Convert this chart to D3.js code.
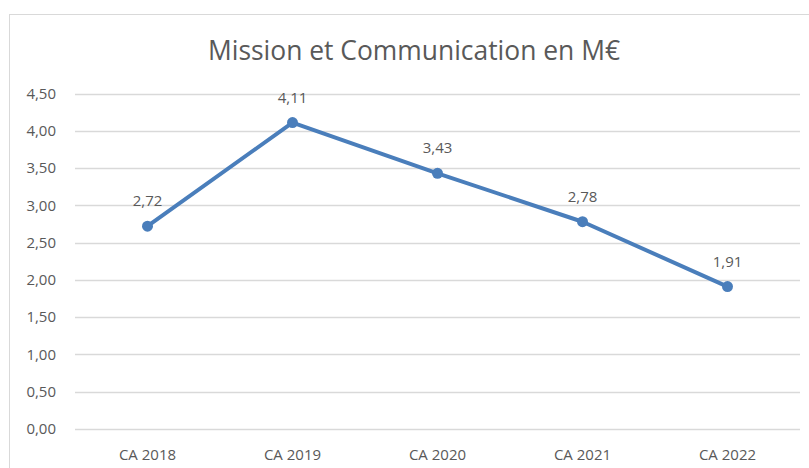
<!DOCTYPE html>
<html>
<head>
<meta charset="utf-8">
<script src="https://cdn.jsdelivr.net/npm/d3@7"></script>
<style>
  body { margin: 0; background: #fff; }
  svg text { font-family: "Open Sans", sans-serif; fill: #595959; }
</style>
</head>
<body>
<div id="chart"></div>
<script>

const categories = ['CA 2018', 'CA 2019', 'CA 2020', 'CA 2021', 'CA 2022'];
const values = [2.72, 4.11, 3.43, 2.78, 1.91];
const yTicks = [0, 0.5, 1, 1.5, 2, 2.5, 3, 3.5, 4, 4.5];
const title = 'Mission et Communication en M€';

const W = 809,
      H = 468;

const MARGIN = {
  top: 93.5,
  right: 9,
  bottom: 39,
  left: 75
};

const fmt = (v) => d3.format('.2f')(v).replace('.', ',');

const svg = d3.select('#chart').append('svg')
  .attr('width', W)
  .attr('height', H);

// chart area border (runs off the right and bottom edges)
svg.append('rect')
  .attr('x', 9.5)
  .attr('y', 14.5)
  .attr('width', W)
  .attr('height', H)
  .attr('fill', 'none')
  .attr('stroke', '#d9d9d9');

svg.append('text')
  .attr('x', 414)
  .attr('y', 60)
  .attr('text-anchor', 'middle')
  .attr('textLength', 412)
  .attr('lengthAdjust', 'spacingAndGlyphs')
  .style('font-size', '27px')
  .text(title);

const x = d3.scaleBand()
  .domain(categories)
  .range([MARGIN.left, W - MARGIN.right]);

const y = d3.scaleLinear()
  .domain([0, 4.5])
  .range([H - MARGIN.bottom, MARGIN.top]);

// gridlines
svg.append('g')
  .selectAll('line')
  .data(yTicks)
  .enter().append('line')
    .attr('x1', MARGIN.left)
    .attr('x2', W - MARGIN.right)
    .attr('y1', (d) => Math.round(y(d)) + 0.5)
    .attr('y2', (d) => Math.round(y(d)) + 0.5)
    .attr('stroke', '#d9d9d9')
    .attr('stroke-width', 1.3);

// y axis labels
svg.append('g')
  .selectAll('text')
  .data(yTicks)
  .enter().append('text')
    .attr('x', 56)
    .attr('y', (d) => y(d))
    .attr('dy', '0.35em')
    .attr('text-anchor', 'end')
    .style('font-size', '15px')
    .text(fmt);

// x axis labels
svg.append('g')
  .selectAll('text')
  .data(categories)
  .enter().append('text')
    .attr('x', (d) => x(d) + x.bandwidth() / 2)
    .attr('y', 460)
    .attr('text-anchor', 'middle')
    .style('font-size', '15px')
    .text((d) => d);

const points = categories.map((c, i) => ({ cat: c, value: values[i] }));
const cx = (d) => x(d.cat) + x.bandwidth() / 2;

const line = d3.line()
  .x(cx)
  .y((d) => y(d.value));

svg.append('path')
  .datum(points)
  .attr('d', line)
  .attr('fill', 'none')
  .attr('stroke', '#4a7ebb')
  .attr('stroke-width', 4)
  .attr('stroke-linejoin', 'round')
  .attr('stroke-linecap', 'round');

svg.append('g')
  .selectAll('circle')
  .data(points)
  .enter().append('circle')
    .attr('cx', cx)
    .attr('cy', (d) => y(d.value))
    .attr('r', 5.5)
    .attr('fill', '#4a7ebb');

svg.append('g')
  .selectAll('text')
  .data(points)
  .enter().append('text')
    .attr('x', cx)
    .attr('y', (d) => y(d.value) - 20)
    .attr('text-anchor', 'middle')
    .style('font-size', '15px')
    .text((d) => fmt(d.value));

</script>
</body>
</html>
